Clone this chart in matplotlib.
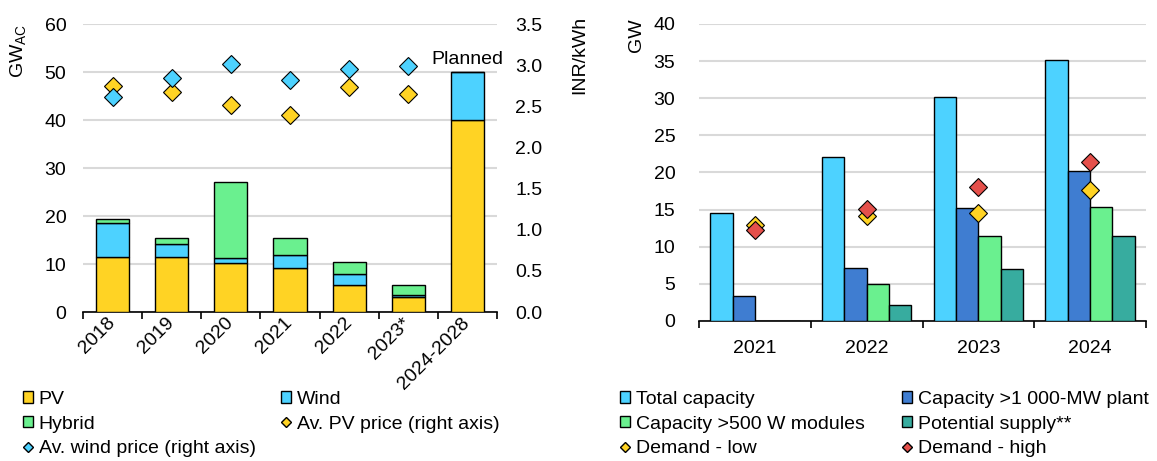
import matplotlib.pyplot as plt
import numpy as np
from matplotlib.lines import Line2D
from matplotlib.patches import Patch

plt.rcParams['font.family'] = ['Liberation Sans', 'DejaVu Sans']
plt.rcParams['font.size'] = 14

# left chart: auctioned capacity and prices
years_left = ["2018", "2019", "2020", "2021", "2022", "2023*", "2024-2028"]
pv = [11.5, 11.4, 10.2, 9.1, 5.7, 3.1, 40.0]
wind = [7.0, 2.7, 1.1, 2.8, 2.2, 0.4, 10.0]
hybrid = [0.8, 1.4, 15.7, 3.6, 2.6, 2.1, 0.0]
pv_price = [2.75, 2.67, 2.52, 2.39, 2.74, 2.65]
wind_price = [2.61, 2.85, 3.01, 2.82, 2.95, 2.99]

# right chart: manufacturing capacity vs demand
years_right = ["2021", "2022", "2023", "2024"]
total_cap = [14.6, 22.1, 30.1, 35.1]
cap_1000mw = [3.3, 7.2, 15.2, 20.2]
cap_500w = [0.0, 5.0, 11.4, 15.4]
potential = [0.0, 2.2, 7.0, 11.4]
demand_low = [12.9, 14.1, 14.5, 17.7]
demand_high = [12.2, 15.1, 18.0, 21.4]

YELLOW = "#FFD324"
CYAN = "#4DD2FF"
GREEN = "#6AF08F"
BLUE = "#3F7DD1"
TEAL = "#37AC9F"
RED = "#E5504B"
GRID = "#D9D9D9"

fig = plt.figure(figsize=(11.57, 4.61), dpi=100)

# ---------- left ----------
ax = fig.add_axes([0.0717, 0.3232, 0.3579, 0.6247])
x = np.arange(len(years_left))
w = 0.56
ax.bar(x, pv, w, color=YELLOW, edgecolor="black", lw=1, zorder=3)
ax.bar(x, wind, w, bottom=pv, color=CYAN, edgecolor="black", lw=1, zorder=3)
bottom2 = np.array(pv) + np.array(wind)
ax.bar(x, hybrid, w, bottom=bottom2, color=GREEN, edgecolor="black", lw=1, zorder=3)
ax.set_xlim(-0.5, len(years_left) - 0.5)
ax.set_ylim(0, 60)
ax.set_yticks(range(0, 61, 10))
ax.grid(axis="y", color=GRID, lw=1.5, zorder=0)
for s in ["top", "right", "left"]:
    ax.spines[s].set_visible(False)
ax.spines["bottom"].set_linewidth(1.2)
ax.set_xticks(np.arange(-0.5, len(years_left)), labels=[])
ax.set_xticks(x, labels=years_left, minor=True)
ax.tick_params(axis="x", which="major", length=5, width=1.2, direction="out")
ax.tick_params(axis="x", which="minor", length=0, pad=6)
plt.setp(ax.get_xticklabels(minor=True), rotation=45, ha="right",
         va="center", rotation_mode="anchor")
ax.tick_params(axis="y", length=0, pad=12)
ax.set_ylabel("GW$_{\\mathregular{AC}}$", loc="top")
ax.yaxis.set_label_coords(-0.13, 1.0)
ax.text(6, 50.8, "Planned", ha="center", va="bottom")

ax2 = ax.twinx()
ax2.set_ylim(0, 3.5)
ax2.set_yticks(np.arange(0, 3.51, 0.5))
ax2.yaxis.set_major_formatter(plt.FormatStrFormatter("%.1f"))
for s in ["top", "right", "left", "bottom"]:
    ax2.spines[s].set_visible(False)
ax2.tick_params(axis="y", length=0, pad=13)
ax2.plot(x[:6], pv_price, "D", color=YELLOW, mec="black", mew=0.8, ms=9, zorder=4)
ax2.plot(x[:6], wind_price, "D", color=CYAN, mec="black", mew=0.8, ms=9, zorder=4)
ax2.set_ylabel("INR/kWh", loc="top")
ax2.yaxis.set_label_coords(1.18, 1.03)

h_left = [
    Patch(fc=YELLOW, ec="black", label="PV"),
    Patch(fc=GREEN, ec="black", label="Hybrid"),
    Line2D([], [], ls="", marker="D", color=CYAN, mec="black", ms=5.5,
           label="Av. wind price (right axis)"),
    Patch(fc=CYAN, ec="black", label="Wind"),
    Line2D([], [], ls="", marker="D", color=YELLOW, mec="black", ms=5.5,
           label="Av. PV price (right axis)"),
]
fig.legend(handles=h_left, ncol=2, loc="upper left", bbox_to_anchor=(0.02, 0.152),
           frameon=False, handlelength=0.5, handleheight=0.5, handletextpad=0.3,
           labelspacing=0.4, columnspacing=1.3, borderaxespad=0, borderpad=0)

# ---------- right ----------
bx = fig.add_axes([0.6042, 0.3037, 0.3863, 0.6443])
xr = np.arange(len(years_right))
bw = 0.2
series = [(total_cap, CYAN), (cap_1000mw, BLUE), (cap_500w, GREEN), (potential, TEAL)]
for i, (vals, col) in enumerate(series):
    bx.bar(xr + (i - 1.5) * bw, vals, bw, color=col, edgecolor="black", lw=1, zorder=3)
bx.plot(xr, demand_low, "D", color=YELLOW, mec="black", mew=0.8, ms=9, zorder=4)
bx.plot(xr, demand_high, "D", color=RED, mec="black", mew=0.8, ms=9, zorder=4)
bx.set_xlim(-0.5, len(years_right) - 0.5)
bx.set_ylim(0, 40)
bx.set_yticks(range(0, 41, 5))
bx.grid(axis="y", color=GRID, lw=1.5, zorder=0)
for s in ["top", "right", "left"]:
    bx.spines[s].set_visible(False)
bx.spines["bottom"].set_linewidth(1.2)
bx.set_xticks(np.arange(-0.5, len(years_right)), labels=[])
bx.set_xticks(xr, labels=years_right, minor=True)
bx.tick_params(axis="x", which="major", length=5, width=1.2, direction="out")
bx.tick_params(axis="x", which="minor", length=0, pad=14)
bx.tick_params(axis="y", length=0, pad=17)
bx.set_ylabel("GW", loc="top")
bx.yaxis.set_label_coords(-0.12, 1.02)

h_right = [
    Patch(fc=CYAN, ec="black", label="Total capacity"),
    Patch(fc=GREEN, ec="black", label="Capacity >500 W modules"),
    Line2D([], [], ls="", marker="D", color=YELLOW, mec="black", ms=5.5,
           label="Demand - low"),
    Patch(fc=BLUE, ec="black", label="Capacity >1 000-MW plant"),
    Patch(fc=TEAL, ec="black", label="Potential supply**"),
    Line2D([], [], ls="", marker="D", color=RED, mec="black", ms=5.5,
           label="Demand - high"),
]
fig.legend(handles=h_right, ncol=2, loc="upper left", bbox_to_anchor=(0.536, 0.152),
           frameon=False, handlelength=0.5, handleheight=0.5, handletextpad=0.3,
           labelspacing=0.4, columnspacing=1.95, borderaxespad=0, borderpad=0)

fig.savefig("out.png", dpi=100)
